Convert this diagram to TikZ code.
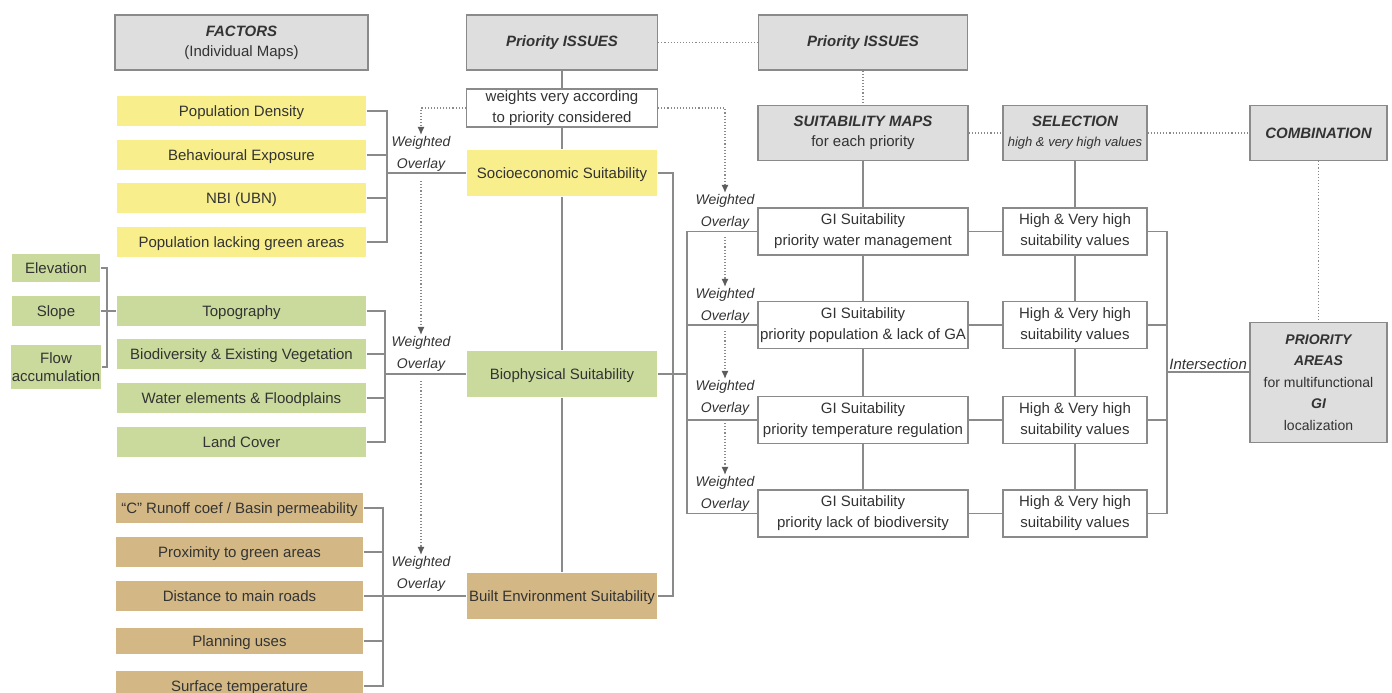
\documentclass[tikz,border=0pt]{standalone}
\usepackage{fontspec}
\setmainfont{Liberation Sans}
\usetikzlibrary{arrows.meta}
\definecolor{hdrgray}{HTML}{DEDEDE}
\definecolor{linegray}{HTML}{8A8A8A}
\definecolor{yelbox}{HTML}{F8EF8C}
\definecolor{grnbox}{HTML}{C9DA9C}
\definecolor{tanbox}{HTML}{D3B886}
\definecolor{txt}{HTML}{333333}

\begin{document}
\begin{tikzpicture}[x=1pt, y=-1pt, color=linegray, line width=1.2pt,
      hdr/.style = {draw, fill=hdrgray, line width=1.5pt, align=center,
        inner sep=1pt, text=txt, font=\fontsize{15}{20}\selectfont},
      box/.style = {draw, fill=white, align=center, inner sep=1pt,
        text=txt, font=\fontsize{15}{21}\selectfont},
      fac/.style = {fill=#1, minimum width=249pt, minimum height=30pt,
        inner sep=1pt, text=txt, text height=12.5pt, text depth=1.5pt,
        font=\fontsize{15}{18}\selectfont},
      out/.style = {fill=#1, minimum width=190pt, minimum height=46pt,
        inner sep=1pt, text=txt, text height=12.5pt, text depth=1.5pt,
        font=\fontsize{15}{18}\selectfont},
      wo/.style = {align=center, inner sep=1pt, text=txt,
        font=\itshape\fontsize{14}{22}\selectfont},
      dots/.style = {dotted, line width=1.1pt},
      arr/.style = {-{Latex[length=8pt,width=7pt,color=txt!80]}}]
      \useasboundingbox (0,0) rectangle (1392,693);
      \clip (0,0) rectangle (1392,693);

      \node[hdr, minimum width=253pt, minimum height=55pt] (fac) at (241.5,42.5)
        {{\bfseries\itshape FACTORS}\\(Individual Maps)};
      \node[hdr, minimum width=191pt, minimum height=55pt] (pi1) at (562,42.5)
        {\bfseries\itshape Priority ISSUES};
      \node[hdr, minimum width=209pt, minimum height=55pt] (pi2) at (863,42.5)
        {\bfseries\itshape Priority ISSUES};
      \node[hdr, minimum width=210pt, minimum height=55pt] (sm) at (863,133)
        {{\bfseries\itshape SUITABILITY MAPS}\\for each priority};
      \node[hdr, minimum width=144pt, minimum height=55pt] (sel) at (1075,133)
        {{\bfseries\itshape SELECTION}\\{\itshape\fontsize{13}{16}\selectfont high \& very high values}};
      \node[hdr, minimum width=137pt, minimum height=55pt] (comb) at (1318.5,133)
        {\bfseries\itshape COMBINATION};
      \node[hdr, minimum width=137pt, minimum height=120pt,
        font=\fontsize{14}{21.5}\selectfont] (pa) at (1318.5,382.5)
        {{\bfseries\itshape PRIORITY}\\{\bfseries\itshape AREAS}\\for multifunctional\\{\bfseries\itshape GI}\\localization};

      \node[box, minimum width=191pt, minimum height=38pt] (wt) at (562,108)
        {weights very according\\to priority considered};

      \node[out=yelbox] (soc) at (562,173) {Socioeconomic Suitability};
      \node[out=grnbox] (bio) at (562,374) {Biophysical Suitability};
      \node[out=tanbox] (blt) at (562,596) {Built Environment Suitability};

      \node[fac=yelbox] (f1) at (241.5,111) {Population Density};
      \node[fac=yelbox] (f2) at (241.5,155) {Behavioural Exposure};
      \node[fac=yelbox] (f3) at (241.5,198) {NBI (UBN)};
      \node[fac=yelbox] (f4) at (241.5,242) {Population lacking green areas};

      \node[fac=grnbox] (g1) at (241.5,311) {Topography};
      \node[fac=grnbox] (g2) at (241.5,354) {Biodiversity \& Existing Vegetation};
      \node[fac=grnbox] (g3) at (241.5,398) {Water elements \& Floodplains};
      \node[fac=grnbox] (g4) at (241.5,442) {Land Cover};

      \node[fac=grnbox, minimum width=88pt, minimum height=28pt] (e1) at (56,268) {Elevation};
      \node[fac=grnbox, minimum width=88pt] (e2) at (56,311) {Slope};
      \node[fac=grnbox, minimum width=88pt, minimum height=44pt, align=center,
        text height=, text depth=] (e3) at (56,367) {Flow\\accumulation};

      \node[fac=tanbox, minimum width=247pt] (t1) at (239.5,508) {``C'' Runoff coef / Basin permeability};
      \node[fac=tanbox, minimum width=247pt] (t2) at (239.5,552) {Proximity to green areas};
      \node[fac=tanbox, minimum width=247pt] (t3) at (239.5,596) {Distance to main roads};
      \node[fac=tanbox, minimum width=247pt, minimum height=26pt] (t4) at (239.5,641) {Planning uses};
      \node[fac=tanbox, minimum width=247pt] (t5) at (239.5,686) {Surface temperature};

      \node[box, minimum width=210pt, minimum height=47pt] (gi1) at (863,231.5)
        {GI Suitability\\priority water management};
      \node[box, minimum width=210pt, minimum height=47pt] (gi2) at (863,325)
        {GI Suitability\\priority population \& lack of GA};
      \node[box, minimum width=210pt, minimum height=47pt] (gi3) at (863,420)
        {GI Suitability\\priority temperature regulation};
      \node[box, minimum width=210pt, minimum height=47pt] (gi4) at (863,513.5)
        {GI Suitability\\priority lack of biodiversity};

      \node[box, minimum width=144pt, minimum height=47pt] (hv1) at (1075,231.5)
        {High \& Very high\\suitability values};
      \node[box, minimum width=144pt, minimum height=47pt] (hv2) at (1075,325)
        {High \& Very high\\suitability values};
      \node[box, minimum width=144pt, minimum height=47pt] (hv3) at (1075,420)
        {High \& Very high\\suitability values};
      \node[box, minimum width=144pt, minimum height=47pt] (hv4) at (1075,513.5)
        {High \& Very high\\suitability values};

      \node[wo] (wo1) at (421,154) {Weighted\\Overlay};
      \node[wo] (wo2) at (421,354) {Weighted\\Overlay};
      \node[wo] (wo3) at (421,574) {Weighted\\Overlay};
      \node[wo] (wo4) at (725,212) {Weighted\\Overlay};
      \node[wo] (wo5) at (725,306) {Weighted\\Overlay};
      \node[wo] (wo6) at (725,398) {Weighted\\Overlay};
      \node[wo] (wo7) at (725,494) {Weighted\\Overlay};

      \coordinate (yb) at (387,173);
      \coordinate (gb) at (385,374);
      \coordinate (tb) at (383,596);
      \coordinate (sb) at (107,311);
      \coordinate (rb) at (673,374);
      \coordinate (gib) at (687,374);
      \coordinate (ib) at (1167,372);

      \draw (f1.east) -| (yb);
      \draw (f2.east) -| (yb);
      \draw (f3.east) -| (yb);
      \draw (f4.east) -| (yb);
      \draw (yb) -- (soc.west);
      \draw (g1.east) -| (gb);
      \draw (g2.east) -| (gb);
      \draw (g3.east) -| (gb);
      \draw (g4.east) -| (gb);
      \draw (gb) -- (bio.west);
      \draw (t1.east) -| (tb);
      \draw (t2.east) -| (tb);
      \draw (t4.east) -| (tb);
      \draw (t5.east) -| (tb);
      \draw (t3.east) -- (blt.west);
      \draw (e1.east) -| (sb);
      \draw (e3.east) -| (sb);
      \draw (e2.east) -- (g1.west);

      \draw (pi1.south) -- (wt.north);
      \draw (wt.south) -- (soc.north);
      \draw (soc.south) -- (bio.north);
      \draw (bio.south) -- (blt.north);

      \draw (soc.east) -| (rb);
      \draw (blt.east) -| (rb);
      \draw (bio.east) -- (gib);
      \draw (gi1.west) -| (gib);
      \draw (gi2.west) -| (gib);
      \draw (gi3.west) -| (gib);
      \draw (gi4.west) -| (gib);

      \draw (sm.south) -- (gi1.north);
      \draw (gi1.south) -- (gi2.north);
      \draw (gi2.south) -- (gi3.north);
      \draw (gi3.south) -- (gi4.north);
      \draw (sel.south) -- (hv1.north);
      \draw (hv1.south) -- (hv2.north);
      \draw (hv2.south) -- (hv3.north);
      \draw (hv3.south) -- (hv4.north);
      \draw (gi1.east) -- (hv1.west);
      \draw (gi2.east) -- (hv2.west);
      \draw (gi3.east) -- (hv3.west);
      \draw (gi4.east) -- (hv4.west);

      \draw (hv1.east) -| (ib);
      \draw (hv2.east) -| (ib);
      \draw (hv3.east) -| (ib);
      \draw (hv4.east) -| (ib);
      \draw (ib) -- node[above, text=txt, inner sep=2pt,
        font=\itshape\fontsize{15}{18}\selectfont] {Intersection} (ib -| pa.west);

      \draw[dots] (pi1.east) -- (pi2.west);
      \draw[dots] (pi2.south) -- (sm.north);
      \draw[dots] (sm.east) -- (sel.west);
      \draw[dots] (sel.east) -- (comb.west);
      \draw[dots] (comb.south) -- (pa.north);

      \draw[dots, arr] (wt.west) -| (wo1.north);
      \draw[dots, arr, shorten <=8pt] (wo1.south) -- (wo2.north);
      \draw[dots, arr, shorten <=8pt] (wo2.south) -- (wo3.north);
      \draw[dots, arr] (wt.east) -| (wo4.north);
      \draw[dots, arr, shorten <=6pt] (wo4.south) -- (wo5.north);
      \draw[dots, arr, shorten <=6pt] (wo5.south) -- (wo6.north);
      \draw[dots, arr, shorten <=6pt] (wo6.south) -- (wo7.north);
    \end{tikzpicture}
\end{document}
